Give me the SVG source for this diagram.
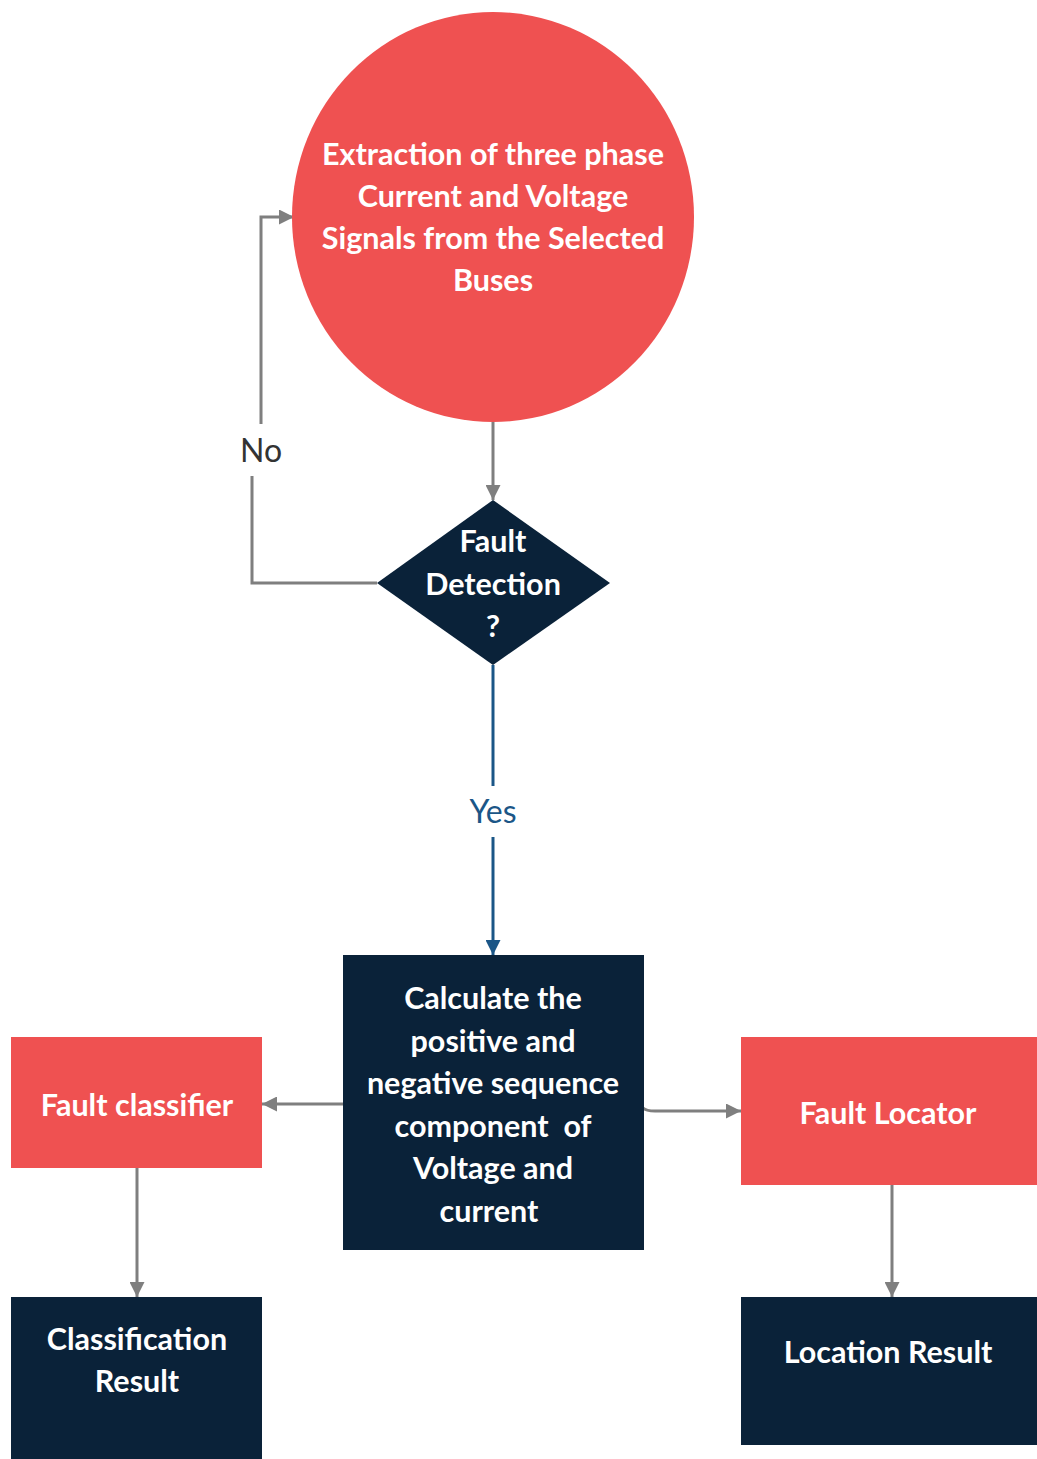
<svg xmlns="http://www.w3.org/2000/svg" width="1037" height="1459" viewBox="0 0 1037 1459">
  <style>
    .red { fill: #ef5151; }
    .navy { fill: #0a2239; }
    .lbl { font-family: Lato, "Liberation Sans", sans-serif; font-weight: bold; font-size: 30.5px; fill: #ffffff; text-anchor: middle; }
    .edge { fill: none; stroke: #7f7f7f; stroke-width: 3; }
    .edge-yes { fill: none; stroke: #1b5687; stroke-width: 3; }
    .elbl { font-family: Lato, "Liberation Sans", sans-serif; font-size: 32px; text-anchor: middle; }
  </style>
  <defs>
    <marker id="arrowGray" viewBox="0 0 10 10" refX="10" refY="5" markerWidth="5" markerHeight="5" orient="auto" markerUnits="strokeWidth">
      <path d="M0,0 L10,5 L0,10 z" fill="#7f7f7f"/>
    </marker>
    <marker id="arrowBlue" viewBox="0 0 10 10" refX="10" refY="5" markerWidth="5" markerHeight="5" orient="auto" markerUnits="strokeWidth">
      <path d="M0,0 L10,5 L0,10 z" fill="#1b5687"/>
    </marker>
  </defs>

  <rect width="1037" height="1459" fill="#ffffff"/>

  <!-- connectors -->
  <g id="connectors">
    <path class="edge" d="M493,422 V500" marker-end="url(#arrowGray)"/>
    <path class="edge" d="M377,583 H252 V476"/>
    <path class="edge" d="M261,424 V217 H294" marker-end="url(#arrowGray)"/>
    <text class="elbl" x="261" y="462" fill="#333333">No</text>
    <path class="edge-yes" d="M493,665 V786"/>
    <text class="elbl" x="493" y="823" fill="#1b5687">Yes</text>
    <path class="edge-yes" d="M493,837 V955" marker-end="url(#arrowBlue)"/>
    <path class="edge" d="M343,1104 H262" marker-end="url(#arrowGray)"/>
    <path class="edge" d="M643,1108 Q646,1111 655,1111 H741" marker-end="url(#arrowGray)"/>
    <path class="edge" d="M137,1168 V1297" marker-end="url(#arrowGray)"/>
    <path class="edge" d="M892,1185 V1297" marker-end="url(#arrowGray)"/>
  </g>

  <g id="extraction">
    <ellipse class="red" cx="493" cy="217" rx="201" ry="205"/>
    <text class="lbl" x="493" y="165">Extraction of three phase</text>
    <text class="lbl" x="493" y="207">Current and Voltage</text>
    <text class="lbl" x="493" y="249">Signals from the Selected</text>
    <text class="lbl" x="493" y="291">Buses</text>
  </g>

  <g id="fault-detection">
    <polygon class="navy" points="493,500 610,583 493,665 377,583"/>
    <text class="lbl" x="493" y="552">Fault</text>
    <text class="lbl" x="493" y="595">Detection</text>
    <text class="lbl" x="493" y="637">?</text>
  </g>

  <g id="sequence-calc">
    <rect class="navy" x="343" y="955" width="301" height="295"/>
    <text class="lbl" x="493" y="1009">Calculate the</text>
    <text class="lbl" x="493" y="1052">positive and</text>
    <text class="lbl" x="493" y="1094">negative sequence</text>
    <text class="lbl" x="493" y="1137" xml:space="preserve">component  of</text>
    <text class="lbl" x="493" y="1179">Voltage and</text>
    <text class="lbl" x="489" y="1222">current</text>
  </g>

  <g id="fault-classifier">
    <rect class="red" x="11" y="1037" width="251" height="131"/>
    <text class="lbl" x="137" y="1116">Fault classifier</text>
  </g>

  <g id="fault-locator">
    <rect class="red" x="741" y="1037" width="296" height="148"/>
    <text class="lbl" x="888" y="1124">Fault Locator</text>
  </g>

  <g id="classification-result">
    <rect class="navy" x="11" y="1297" width="251" height="162"/>
    <text class="lbl" x="137" y="1350">Classification</text>
    <text class="lbl" x="137" y="1392">Result</text>
  </g>

  <g id="location-result">
    <rect class="navy" x="741" y="1297" width="296" height="148"/>
    <text class="lbl" x="888" y="1363">Location Result</text>
  </g>
</svg>
